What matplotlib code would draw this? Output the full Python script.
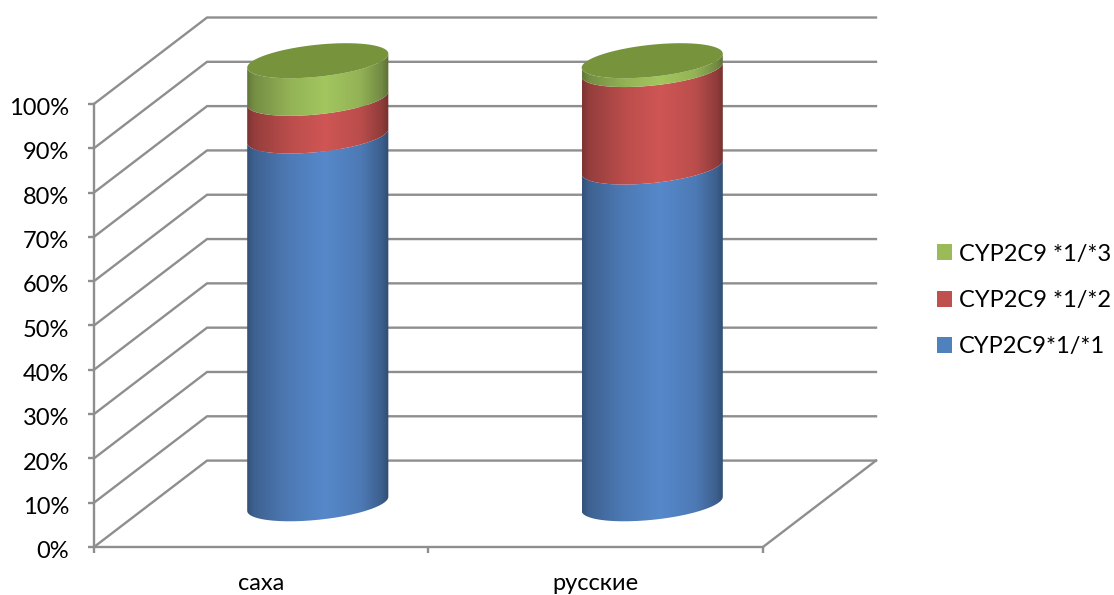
#!/usr/bin/env python
"""Stacked 100% cylinders of CYP2C9 genotype shares in two populations."""
import matplotlib

matplotlib.use("Agg")
import matplotlib.pyplot as plt
import numpy as np
from matplotlib.colors import to_rgb
from matplotlib.patches import Patch, PathPatch, Polygon
from matplotlib.path import Path
from matplotlib.transforms import ScaledTranslation

plt.rcParams["font.family"] = ["Lato", "Open Sans", "DejaVu Sans"]

categories = ["саха", "русские"]
series_names = ["CYP2C9*1/*1", "CYP2C9 *1/*2", "CYP2C9 *1/*3"]
wt_values = [83.0, 76.0]
het2_values = [8.5, 22.0]
het3_values = [8.5, 2.0]
percent_ticks = list(range(0, 101, 10))

colors = ["#5688CA", "#CF5654", "#A3C65F"]
legend_colors = ["#4F81BD", "#C0504D", "#9BBB59"]
top_color = "#77933C"
grid_color = "#8E8E8E"

# floor/wall depth of the fake 3D box, in data units
DEPTH_X = 0.338
DEPTH_Y = 19.5
FRONT_W = 2.0
RX = 0.211  # cylinder radius along x
RY = 3.62  # ellipse half height
SHEAR = 1.58  # rise of the ellipse from left to right edge

W, H = 1114, 595
fig = plt.figure(figsize=(W / 100, H / 100), dpi=100, facecolor="white")
ax = fig.add_axes([94 / W, 1 - 547 / H, (876 - 94) / W, (547 - 17.5) / H])
ax.set_xlim(0, FRONT_W + DEPTH_X)
ax.set_ylim(0, 100 + DEPTH_Y)
ax.patch.set_visible(False)

# side wall diagonals and back wall lines
for v in percent_ticks:
    ax.plot([0, DEPTH_X, FRONT_W + DEPTH_X], [v, v + DEPTH_Y, v + DEPTH_Y],
            color=grid_color, lw=1.7, solid_joinstyle="miter", clip_on=False, zorder=1)
ax.plot([FRONT_W, FRONT_W + DEPTH_X], [0, DEPTH_Y], color=grid_color, lw=1.7,
        clip_on=False, zorder=1)

for side in ("top", "right"):
    ax.spines[side].set_visible(False)
for side in ("left", "bottom"):
    ax.spines[side].set_color(grid_color)
    ax.spines[side].set_linewidth(1.7)
ax.spines["left"].set_bounds(0, 100)
ax.spines["bottom"].set_bounds(0, FRONT_W)

ax.set_yticks(percent_ticks, [f"{v}%" for v in percent_ticks])
ax.set_xticks([0, 1, 2], ["", "", ""])
ax.set_xticks([0.5, 1.5], categories, minor=True)
ax.tick_params(axis="both", which="major", length=4.5, width=1.7, color=grid_color)
ax.tick_params(axis="y", labelsize=17, pad=13.5)
ax.tick_params(axis="x", which="minor", length=0, labelsize=17, pad=18.5)

# nudge the percent labels down a little
down = ScaledTranslation(0, -2 / 72, fig.dpi_scale_trans)
for label in ax.get_yticklabels():
    label.set_transform(label.get_transform() + down)


def arc(cx, cy, start, stop, n=80):
    """Points on the sheared ellipse of a cylinder cross-section."""
    t = np.linspace(start, stop, n)
    return np.column_stack((cx + RX * np.cos(t),
                            cy + RY * np.sin(t) + SHEAR * np.cos(t)))


def shaded_band(cx, y0, y1, color):
    front0 = arc(cx, y0, np.pi, 2 * np.pi)
    front1 = arc(cx, y1, 2 * np.pi, np.pi)
    verts = np.vstack((front0, front1, front0[:1]))
    clip = PathPatch(Path(verts), transform=ax.transData)
    frac = np.linspace(0, 1, 256)
    shade = np.interp(frac, [0, 0.05, 0.3, 0.55, 0.8, 0.95, 1],
                      [0.6, 0.72, 0.9, 1.0, 0.9, 0.7, 0.56])
    rgb = np.outer(shade, to_rgb(color))[np.newaxis, :, :]
    im = ax.imshow(rgb, extent=(cx - RX, cx + RX, y0 - 10, y1 + 10), aspect="auto",
                   interpolation="bilinear", zorder=3)
    im.set_clip_path(clip)


rows = np.array([wt_values, het2_values, het3_values])
base = np.cumsum(np.vstack((np.zeros(len(categories)), rows)), axis=0)
for i in range(len(categories)):
    cx = i + 0.5 + DEPTH_X / 2
    for j, color in enumerate(colors):
        shaded_band(cx, base[j, i] + DEPTH_Y / 2, base[j + 1, i] + DEPTH_Y / 2, color)
    cap = arc(cx, base[-1, i] + DEPTH_Y / 2, 0, 2 * np.pi, 160)
    ax.add_patch(Polygon(cap, closed=True, facecolor=top_color, edgecolor="none", zorder=4))

ax.set_xlim(0, FRONT_W + DEPTH_X)
ax.set_ylim(0, 100 + DEPTH_Y)

handles = [Patch(facecolor=c, edgecolor="none", label=n)
           for c, n in zip(legend_colors, series_names)][::-1]
fig.legend(handles=handles, loc="center left", bbox_to_anchor=(932 / W, 1 - 300.5 / H),
           frameon=False, fontsize=17, handlelength=0.65, handleheight=0.65,
           handletextpad=0.3, labelspacing=1.08, borderpad=0.2, borderaxespad=0)

fig.savefig("out.png", dpi=100)
